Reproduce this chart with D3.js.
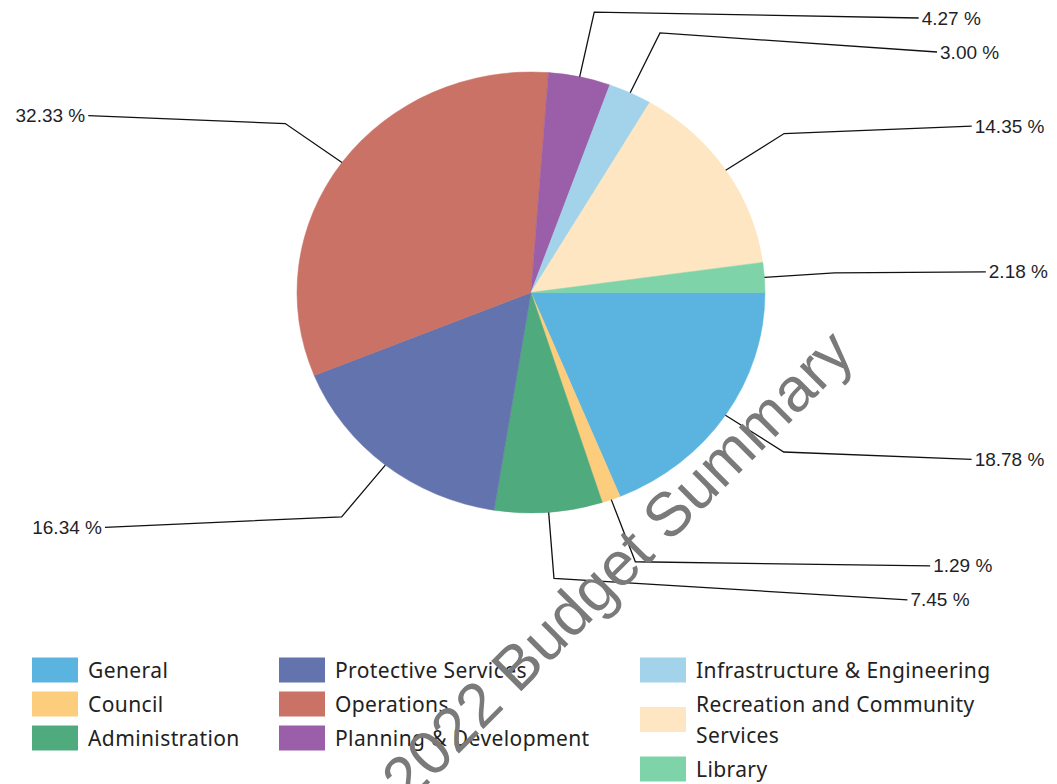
<!DOCTYPE html>
<html>
<head>
<meta charset="utf-8">
<script src="https://cdn.jsdelivr.net/npm/d3@7"></script>
<style>
  html, body { margin: 0; padding: 0; background: #fff; }
  svg { display: block; }
</style>
</head>
<body>
<svg id="chart" width="1057" height="784"></svg>
<script>
// ---- data ----
const categories = ["General", "Council", "Administration", "Protective Services", "Operations",
  "Planning & Development", "Infrastructure & Engineering", "Recreation and Community Services", "Library"];
const values = [18.78, 1.29, 7.45, 16.34, 32.33, 4.27, 3.00, 14.35, 2.18];
const colors = ["#5BB4E0", "#FDCD7E", "#4FAA7E", "#6373AD", "#C97265",
  "#9A5FA8", "#A2D3EA", "#FDE6C1", "#7FD3A8"];
const watermark = "2022 Budget Summary";

// ---- layout ----
const W = 1057, H = 784;
const cx = 531, cy = 292.5, rx = 234, ry = 220.5;
const svg = d3.select("#chart");

const data = categories.map((c, i) => ({ name: c, value: values[i], color: colors[i] }));
const pie = d3.pie().sort(null).value(d => d.value)
  .startAngle(Math.PI / 2).endAngle(Math.PI / 2 + 2 * Math.PI);
const arcs = pie(data);
const arc = d3.arc().innerRadius(0).outerRadius(ry);

const gPie = svg.append("g").attr("transform", `translate(${cx},${cy}) scale(${rx / ry},1)`);
gPie.selectAll("path").data(arcs).join("path")
  .attr("d", arc).attr("fill", d => d.data.color)
  .attr("stroke", d => d.data.color).attr("stroke-width", 0.5);

// ---- labels with leader lines ----
const labels = arcs.map(a => {
  const m = (a.startAngle + a.endAngle) / 2;
  const ux = Math.sin(m), uy = -Math.cos(m);
  return {
    text: a.data.value.toFixed(2) + " %",
    ux, uy,
    edge: [cx + rx * ux, cy + ry * uy],
    elbow: [cx + 1.3 * rx * ux, cy + 1.3 * ry * uy],
    right: ux >= 0,
    y: cy + 300 * uy
  };
});
const minGap = 34, topLim = 18, botLim = 610;
[true, false].forEach(side => {
  const s = labels.filter(l => l.right === side).sort((a, b) => a.y - b.y);
  for (let it = 0; it < 200; it++) {
    s.forEach(l => { l.y = Math.max(topLim, Math.min(botLim, l.y)); });
    for (let i = 1; i < s.length; i++) {
      const d = s[i].y - s[i - 1].y;
      if (d < minGap) {
        const p = (minGap - d) / 2;
        s[i - 1].y -= p; s[i].y += p;
      }
    }
  }
  s.forEach(l => { l.y = Math.max(topLim, Math.min(botLim, l.y)); });
});
labels.forEach(l => {
  l.endX = l.right ? cx + 370 + 85 * Math.abs(l.ux) : cx - 370 - 90 * Math.abs(l.ux);
});

const gLab = svg.append("g");
gLab.selectAll("polyline").data(labels).join("polyline")
  .attr("points", l => [l.edge, l.elbow, [l.endX, l.y]].map(p => p.join(",")).join(" "))
  .attr("fill", "none").attr("stroke", "#111").attr("stroke-width", 1.3);
gLab.selectAll("text").data(labels).join("text")
  .attr("x", l => l.right ? l.endX + 3 : l.endX - 3)
  .attr("y", l => l.y)
  .attr("text-anchor", l => l.right ? "start" : "end")
  .attr("dominant-baseline", "central")
  .attr("font-family", "'Liberation Sans', Arial, sans-serif")
  .attr("font-size", 19).attr("fill", "#1f1f2a")
  .text(l => l.text);

// ---- legend ----
const colX = [32, 279, 640];
const perCol = 3, rowH = 34, lineH = 31, swW = 46, swH = 25, textOff = 56;
const gLeg = svg.append("g").attr("font-family", "'Noto Sans', 'Open Sans', sans-serif")
  .attr("font-size", 21).attr("letter-spacing", 0.4).attr("fill", "#222");
for (let c = 0; c < colX.length; c++) {
  let yCur = 670;
  data.slice(c * perCol, c * perCol + perCol).forEach(d => {
    const tx = colX[c] + textOff;
    const maxW = W - tx - 8;
    const t = gLeg.append("text").attr("x", tx).attr("dominant-baseline", "central");
    // word wrap
    const words = d.name.split(" ");
    let lines = [], cur = "";
    const probe = gLeg.append("text").attr("visibility", "hidden");
    words.forEach(w => {
      const test = cur ? cur + " " + w : w;
      probe.text(test);
      if (probe.node().getComputedTextLength() > maxW && cur) { lines.push(cur); cur = w; }
      else cur = test;
    });
    lines.push(cur);
    probe.remove();
    lines.forEach((ln, i) => {
      t.append("tspan").attr("x", tx).attr("y", yCur + i * lineH).text(ln);
    });
    const midY = yCur + (lines.length - 1) * lineH / 2;
    gLeg.append("rect").attr("x", colX[c]).attr("y", midY - swH / 2)
      .attr("width", swW).attr("height", swH).attr("fill", d.color);
    yCur += rowH + (lines.length - 1) * lineH;
  });
}

// ---- watermark ----
svg.append("text")
  .attr("transform", "translate(617,565) rotate(-45)")
  .attr("text-anchor", "middle").attr("dominant-baseline", "central")
  .attr("font-family", "'Liberation Sans', Arial, sans-serif")
  .attr("font-size", 62).attr("fill", "#7a7a7a")
  .text(watermark);
</script>
</body>
</html>
